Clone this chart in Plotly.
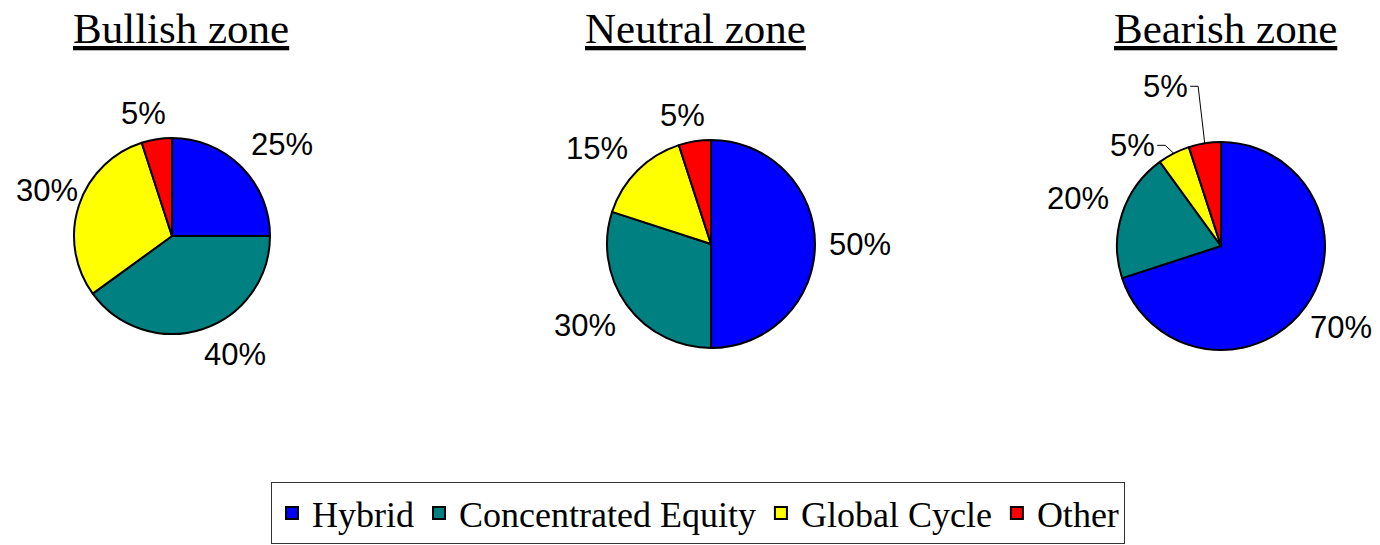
import math
import plotly.graph_objects as go

categories = ["Hybrid", "Concentrated Equity", "Global Cycle", "Other"]
colors = ["#0000FF", "#008080", "#FFFF00", "#FF0000"]
zones = ["Bullish zone", "Neutral zone", "Bearish zone"]
bullish = [25, 40, 30, 5]
neutral = [50, 30, 15, 5]
bearish = [70, 20, 5, 5]
series = [bullish, neutral, bearish]

W, H = 1380, 545
OFF = 8  # page body margin

# layout: pie centre (page px) and radius
pies = [(172, 236, 98), (711, 244, 104), (1221, 246, 104)]
title_x = [181, 695, 1225]
LABEL_FONT = 31
LABEL_GAP = 14
EDGE_PAD = 12
# leader-line label offsets (px) for crowded small slices: (pie index, slice index) -> (dx, dy)
leader_offsets = {(2, 2): (-41, -8), (2, 3): (-39, -57)}


def to_paper(px, py):
    return (px - OFF) / W, 1 - (py - OFF) / H


def domain_for(cx, cy, r):
    x0, y1 = to_paper(cx - r, cy - r)
    x1, y0 = to_paper(cx + r, cy + r)
    return dict(x=[x0, x1], y=[y0, y1])


def soft_sign(t, k=3.0):
    return max(-1.0, min(1.0, t * k))


label_font = dict(family="Liberation Sans", size=LABEL_FONT, color="black")
fig = go.Figure()
shapes = []
for i, vals in enumerate(series):
    cx, cy, r = pies[i]
    fig.add_trace(go.Pie(
        labels=categories, values=vals, sort=False, direction="clockwise", rotation=0,
        marker=dict(colors=colors, line=dict(color="black", width=2)),
        textinfo="none", domain=domain_for(cx, cy, r),
        showlegend=(i == 0), hoverinfo="label+percent",
    ))
    total = sum(vals)
    cum = 0
    for j, v in enumerate(vals):
        mid = (cum + v / 2) / total * 2 * math.pi
        cum += v
        dx, dy = math.sin(mid), -math.cos(mid)
        txt = f"{round(100 * v / total)}%"
        ndig = len(txt) - 1
        hw = 0.5 * LABEL_FONT * (0.556 * ndig + 0.889)
        hh = 12
        if (i, j) in leader_offsets:
            ex, ey = cx + r * dx, cy + r * dy
            ox, oy = leader_offsets[(i, j)]
            tx, ty = ex + ox, ey + oy
            rx = tx + hw + 2
            elbow = rx + 8
            p0 = to_paper(rx, ty)
            p1 = to_paper(elbow, ty)
            p2 = to_paper(ex, ey)
            shapes.append(dict(type="path", xref="paper", yref="paper",
                               path=f"M {p0[0]},{p0[1]} L {p1[0]},{p1[1]} L {p2[0]},{p2[1]}",
                               line=dict(color="black", width=1)))
        else:
            d = r + LABEL_GAP
            tx = cx + d * dx + hw * soft_sign(dx)
            ty = cy + d * dy + hh * soft_sign(dy)
            tx = max(tx, OFF + hw + EDGE_PAD - 4)
            tx = min(tx, W - hw - 8)
        px, py = to_paper(tx, ty)
        fig.add_annotation(text=txt, x=px, y=py, xref="paper", yref="paper",
                           showarrow=False, xanchor="center", yanchor="middle", font=label_font)

for z, tx in zip(zones, title_x):
    px, py = to_paper(tx, 28)
    fig.add_annotation(text=f"<u>{z}</u>", x=px, y=py, xref="paper", yref="paper",
                       showarrow=False, xanchor="center", yanchor="middle",
                       font=dict(family="Liberation Serif", size=43, color="black"))

lx, ly = to_paper(698, 482)
fig.update_layout(
    width=W, height=H, margin=dict(l=0, r=0, t=0, b=0, autoexpand=False),
    paper_bgcolor="white", plot_bgcolor="white", shapes=shapes,
    legend=dict(orientation="h", x=lx, xanchor="center", y=ly, yanchor="top",
                font=dict(family="Liberation Serif", size=36, color="black"),
                bordercolor="#333", borderwidth=1, bgcolor="white"),
)
fig.write_html("out.html")
